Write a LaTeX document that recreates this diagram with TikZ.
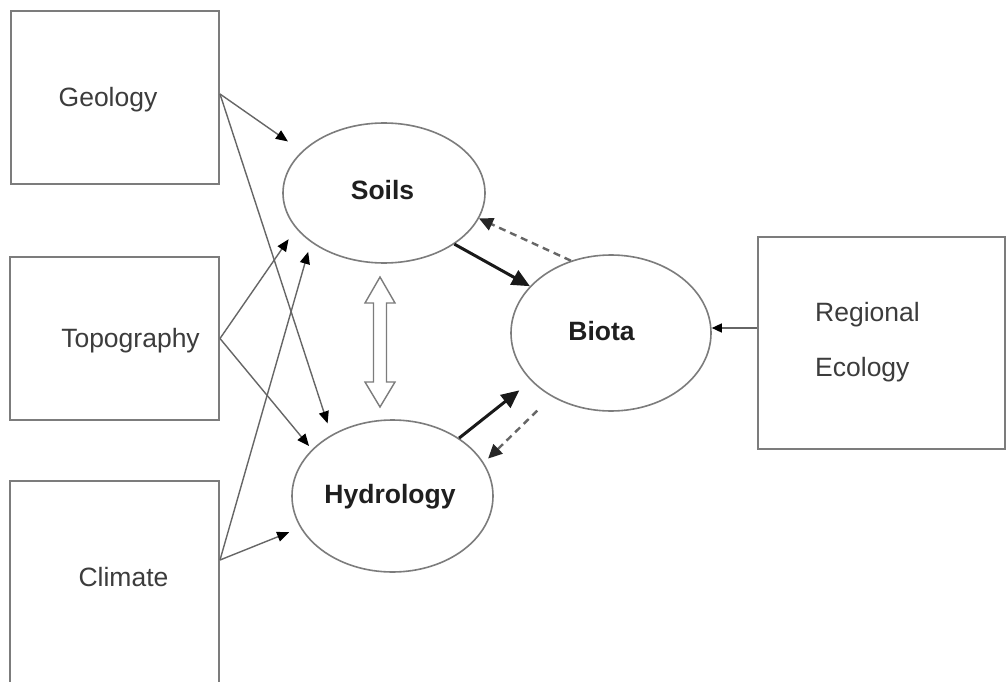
\documentclass[tikz,border=0pt]{standalone}
\usepackage{fontspec}
\setmainfont{Liberation Sans}
\usetikzlibrary{arrows.meta,calc,shapes.geometric}
\definecolor{linegray}{HTML}{7C7C7C}
\definecolor{txtgray}{HTML}{3C3C3C}
\begin{document}
\begin{tikzpicture}[x=1pt,y=-1pt,
 box/.style={draw=linegray,line width=2pt,inner sep=0pt},
 oval/.style={ellipse,draw=linegray,line width=1.6pt,inner sep=0pt},
 lbl/.style={text=txtgray,font=\fontsize{26.5}{30}\selectfont,inner sep=0pt,anchor=base},
 blbl/.style={text=black!88,font=\fontsize{26.5}{30}\selectfont\bfseries,inner sep=0pt,anchor=base},
 thinarr/.style={draw=black!60,line width=1.4pt,-{Triangle[length=12pt,width=10pt,color=black]}},
 boldarr/.style={draw=black!90,line width=3pt,-{Triangle[length=18pt,width=16pt]}},
 dsh/.style={draw=black!60,line width=2.4pt,dash pattern=on 7pt off 5pt,-{Triangle[length=14pt,width=13pt,color=black!85]}},
]
\clip (0,0) rectangle (1007,682);
\fill[white] (0,0) rectangle (1007,682);

% boxes
\node[box,minimum width=208pt,minimum height=173pt] (geo) at (115,97.5) {};
\node[box,minimum width=209pt,minimum height=163pt] (topo) at (114.5,338.5) {};
\node[box,minimum width=209pt,minimum height=220pt] (clim) at (114.5,591) {};
\node[box,minimum width=247pt,minimum height=212pt] (reg) at (881.5,343) {};

% ellipses
\node[oval,minimum width=202pt,minimum height=140pt] (soils) at (384,193) {};
\node[oval,minimum width=201pt,minimum height=152pt] (hydro) at (392.5,496) {};
\node[oval,minimum width=200pt,minimum height=156pt] (biota) at (611,333) {};

% labels
\node[lbl] (tgeo) at (108,107) {Geology};
\node[lbl] (ttopo) at (130.5,347) {Topography};
\node[lbl] (tclim) at (123.5,586.5) {Climate};
\node[lbl,anchor=base west] (treg1) at (815,321) {Regional};
\node[lbl,anchor=base west] (treg2) at (815,376) {Ecology};
\node[blbl] (tsoils) at (382.5,199.3) {Soils};
\node[blbl] (thydro) at (390,503.3) {Hydrology};
\node[blbl] (tbiota) at (601.5,340.7) {Biota};

% thin arrows from boxes
\coordinate (geoout) at ([yshift=3.5pt]geo.east);
\coordinate (climout) at ([yshift=31pt]clim.east);
\draw[thinarr,shorten >=17pt] (geoout) -- (soils.153.3);
\draw[thinarr,shorten >=12pt] (geoout) -- (hydro.135.3);
\draw[thinarr,shorten >=13pt] (topo.east) -- (soils.202.9);
\draw[thinarr,shorten >=4.5pt] (topo.east) -- (hydro.150);
\draw[thinarr,shorten >=10pt] (climout) -- (soils.214.9);
\draw[thinarr,shorten >=12pt] (climout) -- (hydro.199.4);

% regional ecology
\coordinate (regout) at ([yshift=15pt]reg.west);
\draw[thinarr,-{Triangle[length=10pt,width=9pt,color=black]}] (regout) -- (regout -| biota.east);

% bold and dashed arrows
\draw[boldarr] (soils.324.2) -- (biota.150.9);
\draw[boldarr,shorten >=15pt] (hydro.41.5) -- (biota.211.1);
\draw[dsh] (biota.119.2) -- (soils.345.7);
\draw[dsh,shorten <=20pt,shorten >=6pt] (biota.227.3) -- (hydro.20.6);

% open double arrow
\draw[draw=linegray,line width=1.4pt,fill=white,line join=miter]
  (380,277) -- (395,303) -- (386.5,303) -- (386.5,382) -- (395,382) -- (380,407)
  -- (365,382) -- (373.5,382) -- (373.5,303) -- (365,303) -- cycle;
\end{tikzpicture}
\end{document}
